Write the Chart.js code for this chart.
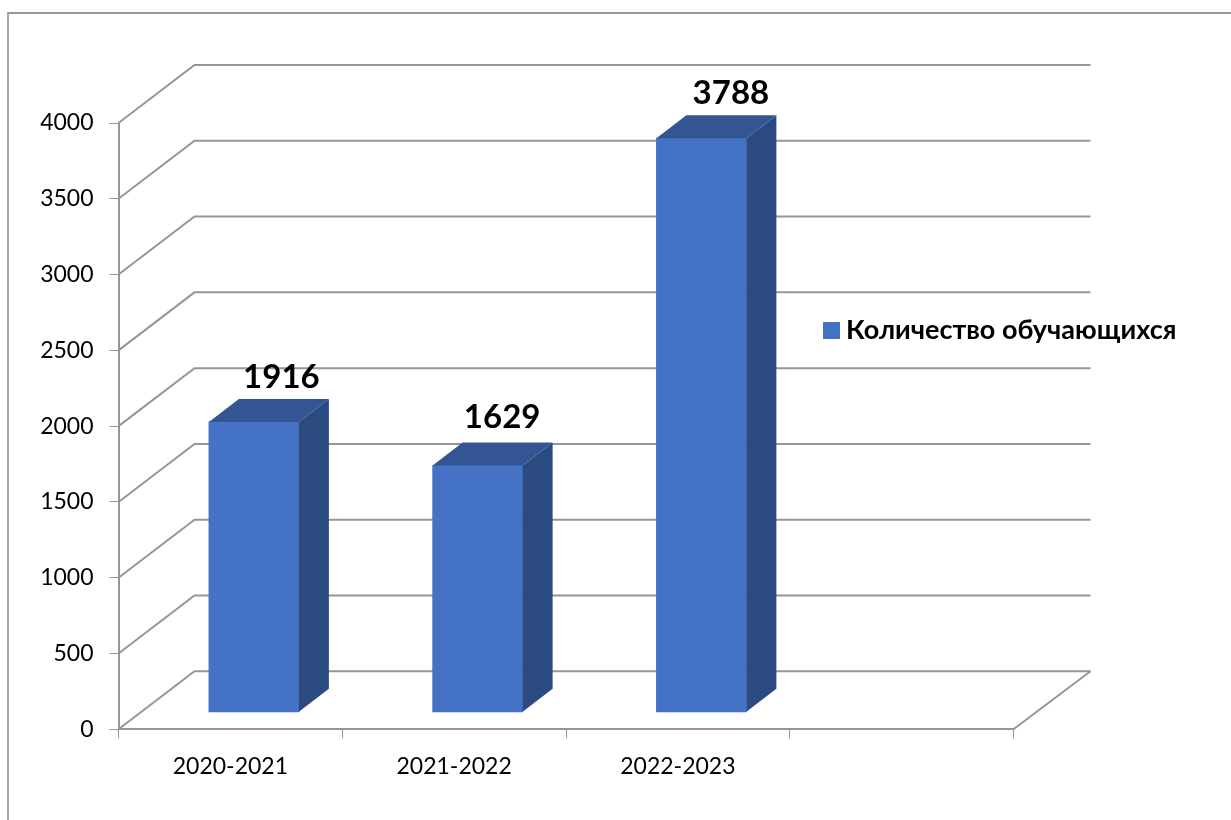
<!DOCTYPE html>
<html>
<head>
<meta charset="utf-8">
<title>Количество обучающихся</title>
<script src="https://cdn.jsdelivr.net/npm/chart.js@4/dist/chart.umd.min.js"></script>
<style>
  html, body { margin: 0; background: #fff; overflow: hidden; }
  #frame { position: absolute; left: 7px; top: 12px; width: 1224px; height: 808px; border-left: 2px solid #a6a6a6; border-top: 2px solid #969696; box-sizing: border-box; }
  #field { position: absolute; left: 0; top: 0; }
</style>
</head>
<body>
<div id="frame"></div>
<canvas id="field" width="1231" height="820"></canvas>
<script>
const categories = ['2020-2021', '2021-2022', '2022-2023', ''];
const counts = [1916, 1629, 3788, null];
const seriesName = 'Количество обучающихся';

const fontFamily = 'Lato, "Noto Sans", sans-serif';
const lineColor = '#969696';
const frontColor = '#4472c4';
const topColor = '#335593';
const sideColor = '#2a4a80';

// Depth of the floor and of the bars, in pixels.
const wall = { dx: 76, dy: -58 };
const barShift = { dx: 23.5, dy: -17 };
const barDepth = { dx: 30, dy: -23 };

// Value labels are not quite evenly placed in the original.
const labelNudge = [[0, 0], [-3, -3], [2, 0]];

const fillFace = (ctx, color, points) => {
  ctx.beginPath();
  points.forEach(([x, y], index) => (index ? ctx.lineTo(x, y) : ctx.moveTo(x, y)));
  ctx.closePath();
  ctx.fillStyle = color;
  ctx.fill();
};

// Back wall lines and the diagonals running to them from the front axes.
const wallPlugin = {
  id: 'wallPlugin',
  beforeDatasetsDraw(chart) {
    const { ctx, chartArea, scales } = chart;
    ctx.save();
    ctx.strokeStyle = lineColor;
    ctx.lineWidth = 2;
    scales.y.ticks.forEach((tick) => {
      const y = scales.y.getPixelForValue(tick.value);
      ctx.beginPath();
      ctx.moveTo(chartArea.left, y);
      ctx.lineTo(chartArea.left + wall.dx, y + wall.dy);
      ctx.lineTo(chartArea.right + wall.dx + 1, y + wall.dy);
      ctx.stroke();
    });
    ctx.beginPath();
    ctx.moveTo(chartArea.right, chartArea.bottom);
    ctx.lineTo(chartArea.right + wall.dx + 1, chartArea.bottom + wall.dy);
    ctx.stroke();
    ctx.restore();
  }
};

// Native bars are pushed back onto the floor, then given a top and a side.
const depthPlugin = {
  id: 'depthPlugin',
  beforeDatasetDraw(chart) {
    chart.ctx.save();
    chart.ctx.translate(barShift.dx, barShift.dy);
  },
  afterDatasetDraw(chart, args) {
    const { ctx } = chart;
    ctx.restore();
    args.meta.data.forEach((bar, index) => {
      if (counts[index] === null) {
        return;
      }
      const left = bar.x - bar.width / 2 + barShift.dx;
      const right = bar.x + bar.width / 2 + barShift.dx;
      const top = bar.y + barShift.dy;
      const bottom = bar.base + barShift.dy;
      fillFace(ctx, sideColor, [
        [right, top],
        [right + barDepth.dx, top + barDepth.dy],
        [right + barDepth.dx, bottom + barDepth.dy],
        [right, bottom]
      ]);
      fillFace(ctx, topColor, [
        [left, top],
        [left + barDepth.dx, top + barDepth.dy],
        [right + barDepth.dx, top + barDepth.dy],
        [right, top]
      ]);
    });
  },
  afterDatasetsDraw(chart) {
    const { ctx } = chart;
    ctx.save();
    ctx.font = `bold 33px ${fontFamily}`;
    ctx.fillStyle = '#000';
    ctx.textAlign = 'center';
    ctx.textBaseline = 'middle';
    chart.getDatasetMeta(0).data.forEach((bar, index) => {
      if (counts[index] !== null) {
        const [nudgeX, nudgeY] = labelNudge[index];
        ctx.fillText(String(counts[index]), bar.x + 51 + nudgeX, bar.y - 62 + nudgeY);
      }
    });
    ctx.restore();
  }
};

// The legend sits inside the plot in the original, so move it after layout.
const legendPlugin = {
  id: 'legendPlugin',
  afterLayout(chart) {
    const { legend } = chart;
    const { width, height } = legend;
    legend.left = 823;
    legend.top = 309.5;
    legend.right = legend.left + width + 20;
    legend.bottom = legend.top + height + 20;
  }
};

new Chart(document.getElementById('field'), {
  type: 'bar',
  data: {
    labels: categories,
    datasets: [{
      label: seriesName,
      data: counts,
      backgroundColor: frontColor,
      barThickness: 90,
      clip: false
    }]
  },
  plugins: [wallPlugin, depthPlugin, legendPlugin],
  options: {
    responsive: false,
    animation: false,
    events: [],
    layout: { padding: { top: 123, right: 217.5, left: 0, bottom: 0 } },
    scales: {
      x: {
        afterFit: (scale) => { scale.height = 90.7; },
        border: { color: lineColor, width: 2 },
        grid: { drawOnChartArea: false, color: lineColor, tickLength: 9, tickWidth: 1 },
        ticks: { color: '#000', font: { family: fontFamily, size: 23 }, padding: 14, maxRotation: 0, autoSkip: false }
      },
      y: {
        min: 0,
        max: 4000,
        afterFit: (scale) => { scale.width = 118.5; },
        border: { color: lineColor, width: 2 },
        grid: { drawOnChartArea: false, color: lineColor, tickLength: 9, tickWidth: 1 },
        ticks: {
          stepSize: 500,
          color: '#000',
          font: { family: fontFamily, size: 23 },
          padding: 16,
          callback: (value) => String(value)
        }
      }
    },
    plugins: {
      tooltip: { enabled: false },
      legend: {
        position: 'chartArea',
        align: 'start',
        labels: {
          color: '#000',
          boxWidth: 2,
          boxHeight: 2,
          padding: 7.5,
          font: { family: fontFamily, size: 27, weight: 'bold' },
          // A thick stroke gives the big square with only a small gap to the text.
          generateLabels: () => [{
            text: seriesName,
            fillStyle: frontColor,
            strokeStyle: frontColor,
            lineWidth: 15,
            datasetIndex: 0
          }]
        }
      }
    }
  }
});
</script>
</body>
</html>
